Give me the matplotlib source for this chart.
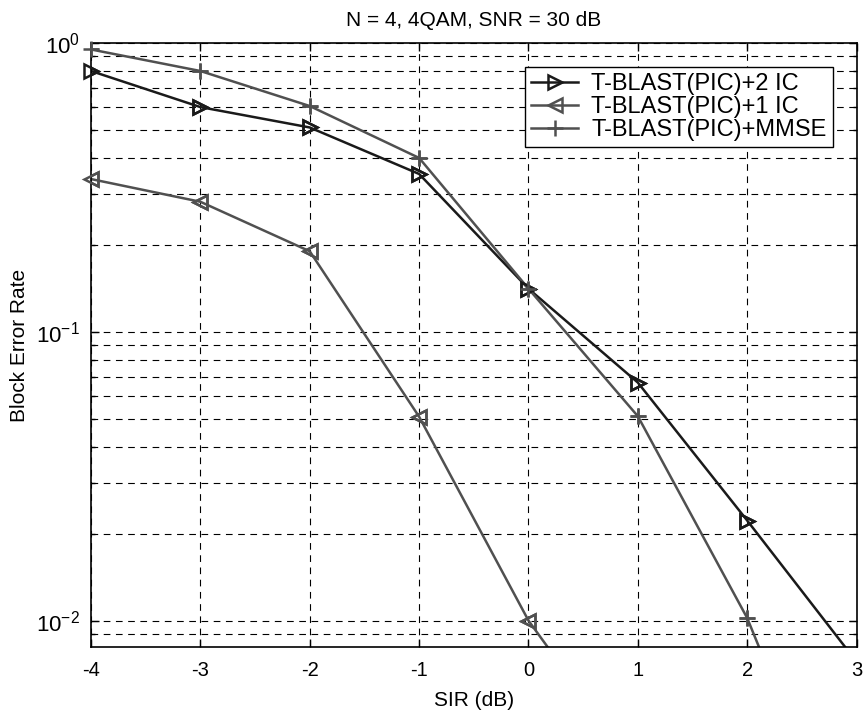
import numpy as np
import matplotlib
matplotlib.use("Agg")
import matplotlib.pyplot as plt
from matplotlib.ticker import LogLocator, NullFormatter

plt.rcParams['font.family'] = ['Liberation Sans', 'DejaVu Sans']
plt.rcParams['mathtext.fontset'] = 'custom'
plt.rcParams['mathtext.rm'] = 'Liberation Sans'
plt.rcParams['mathtext.it'] = 'Liberation Sans:italic'

# SIR values and block error rates
sir = [-4, -3, -2, -1, 0, 1, 2, 3]
bler_2ic = [0.80, 0.60, 0.51, 0.352, 0.141, 0.0667, 0.0222, 0.0072]
bler_1ic = [0.338, 0.282, 0.19, 0.0508, 0.0100, 0.003, 0.0008, 0.0002]
bler_mmse = [0.95, 0.80, 0.605, 0.40, 0.141, 0.051, 0.0102, 0.0012]

labels = ['T-BLAST(PIC)+2 IC', 'T-BLAST(PIC)+1 IC', 'T-BLAST(PIC)+MMSE']
title = 'N = 4, 4QAM, SNR = 30 dB'

ymin, ymax = 0.0081, 1.0

fig = plt.figure(figsize=(8.67, 7.17), dpi=100)
ax = fig.add_axes([0.105, 0.0976, 0.883, 0.8424])

dark = '#1a1a1a'
gray = '#505050'
styles = [
    (bler_2ic, dark, '>', 10, 'none', labels[0]),
    (bler_1ic, gray, '<', 10, 'none', labels[1]),
    (bler_mmse, gray, '+', 12, gray, labels[2]),
]
x = np.array(sir)
for vals, col, mk, ms, mfc, lab in styles:
    y = np.array(vals)
    ax.plot(x, y, color=col, lw=1.8, marker=mk, ms=ms, mew=1.8, mfc=mfc,
            label=lab)
    # markers are not clipped at the axes edge (MATLAB style)
    vis = (y >= ymin) & (y <= ymax)
    ax.plot(x[vis], y[vis], ls='none', color=col, marker=mk, ms=ms, mew=1.8,
            mfc=mfc, clip_on=False, zorder=3)

ax.set_yscale('log')
ax.set_xlim(-4, 3)
ax.set_ylim(ymin, ymax)
ax.set_xticks(sir)
ax.set_xticklabels([str(v) for v in sir])
ax.yaxis.set_major_locator(LogLocator(base=10, numticks=10))
ax.yaxis.set_minor_locator(LogLocator(base=10, subs=np.arange(2, 10), numticks=20))
ax.yaxis.set_minor_formatter(NullFormatter())

ax.grid(True, which='major', linestyle=(0, (6, 5)), color='black', lw=0.8)
ax.grid(True, which='minor', axis='y', linestyle=(0, (6, 5)), color='black', lw=0.8)
ax.tick_params(which='both', direction='in', top=True, right=True, width=1)
ax.tick_params(axis='x', pad=10, labelsize=14.5)
ax.tick_params(axis='y', pad=8, labelsize=16)
ax.tick_params(which='major', length=6)
ax.tick_params(which='minor', length=3)
for s in ax.spines.values():
    s.set_linewidth(1.2)

ax.set_title(title, fontsize=15, pad=12)
ax.set_xlabel('SIR (dB)', fontsize=15, labelpad=8)
ax.set_ylabel('Block Error Rate', fontsize=15, labelpad=5)

leg = ax.legend(loc='upper right', bbox_to_anchor=(0.9687, 0.960), fontsize=17,
                fancybox=False, framealpha=1, edgecolor='black',
                handlelength=2.0, handletextpad=0.55, labelspacing=0.05,
                borderpad=0.25, borderaxespad=0)
leg.get_frame().set_linewidth(1.0)

fig.savefig('out.png', dpi=100)
